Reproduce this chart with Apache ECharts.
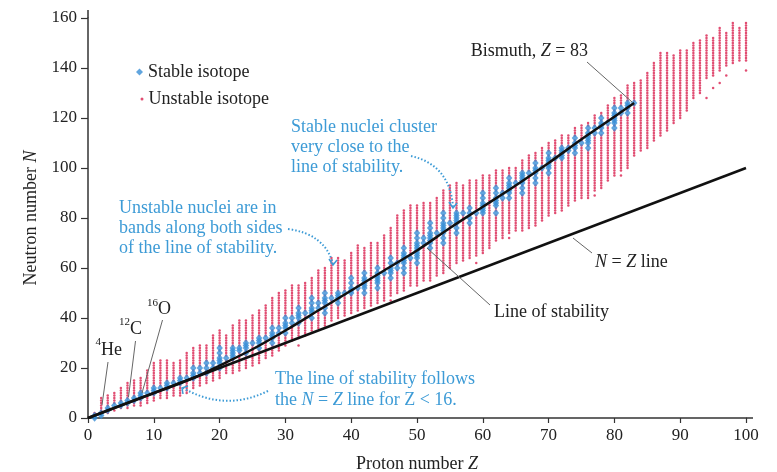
<!DOCTYPE html>
<html><head><meta charset="utf-8">
<script src="https://cdn.jsdelivr.net/npm/echarts@6/dist/echarts.min.js"></script>
<style>html,body{margin:0;padding:0;background:#fff}#c{width:777px;height:472px}</style>
</head><body><div id="c"></div>
<script>
// ---------- DATA ----------
const protonZ = [1,2,3,4,5,6,7,8,9,10,11,12,13,14,15,16,17,18,19,20,21,22,23,24,25,26,27,28,29,30,
  31,32,33,34,35,36,37,38,39,40,41,42,43,44,45,46,47,48,49,50,51,52,53,54,55,56,57,58,59,60,
  61,62,63,64,65,66,67,68,69,70,71,72,73,74,75,76,77,78,79,80,81,82,83,84,85,86,87,88,89,90,
  91,92,93,94,95,96,97,98,99,100];
// lowest / highest neutron number of the unstable band for each Z
const unstableMinN = [0,1,2,3,4,4,5,5,6,7,8,8,9,9,10,12,13,14,15,16,18,18,19,20,21,22,24,25,27,29,
  31,32,33,35,36,37,39,40,41,42,43,44,45,46,47,49,50,51,53,53,55,55,57,58,60,62,63,64,65,66,
  69,71,72,74,75,75,76,77,79,81,82,83,85,87,88,88,91,92,95,97,99,100,105,107,108,111,113,115,118,120,
  123,128,130,136,137,139,141,142,143,143];
const unstableMaxN = [2,8,9,10,12,14,15,16,19,22,23,23,22,23,26,28,29,29,33,35,33,37,39,39,41,43,45,48,50,51,
  53,53,54,56,59,60,64,64,63,66,69,68,70,70,73,76,81,83,85,85,86,86,88,91,93,94,93,95,95,97,
  97,99,99,100,100,103,105,106,108,110,111,113,113,116,117,118,121,122,125,128,129,133,134,135,138,142,146,146,145,147,
  147,150,151,153,152,156,154,158,156,158];
// isolated unstable isotopes below the bands
const unstableExtraZ = [32,46,59,61,64,77,81,94,95,96,97,100];
const unstableExtraN = [29,47,62,68,72,89,97,128,132,134,137,139];
// stable isotopes: neutron numbers for each Z = 1..83
const stableN = [
  [0,1],[1,2],[3,4],[5],[5,6],[6,7],[7,8],[8,9,10],[10],[10,11,12],
  [12],[12,13,14],[14],[14,15,16],[16],[16,17,18,20],[18,20],[18,20,22],[20,22],[20,22,23,24,26,28],
  [24],[24,25,26,27,28],[27,28],[26,28,29,30],[30],[28,30,31,32],[32],[30,32,33,34,36],[34,36],[34,36,37,38,40],
  [38,40],[38,40,41,42,44],[42],[40,42,43,44,46,48],[44,46],[42,44,46,47,48,50],[48],[46,48,49,50],[50],[50,51,52,54,56],
  [52],[50,52,53,54,55,56,58],[],[52,54,55,56,57,58,60],[58],[56,58,59,60,62,64],[60,62],[58,60,62,63,64,65,66,68],[64],[62,64,65,66,67,68,69,70,72,74],
  [70,72],[68,70,71,72,73,74,76,78],[74],[70,72,74,75,76,77,78,80,82],[78],[74,76,78,79,80,81,82],[82],[78,80,82,84],[82],[82,83,84,85,86,88,90],
  [],[82,85,86,87,88,90,92],[88,90],[88,90,91,92,93,94,96],[94],[90,92,94,95,96,97,98],[98],[94,96,98,99,100,102],[100],[98,100,101,102,103,104,106],
  [104],[104,105,106,107,108],[107,108],[106,108,109,110,112],[110],[108,110,111,112,113,114,116],[114,116],[114,116,117,118,120],[118],[116,118,119,120,121,122,124],
  [122,124],[122,124,125,126],[126]
];
// line of stability
const stabilityZ = [0,8,16,20,25,30,35,40,45,50,55,60,65,70,75,80,83];
const stabilityN = [0,8,16,21,27.5,35,43,51,59,67,76,84.5,93,102,111.5,120.5,126];
// N = Z line
const nzLineZ = [0,100];
const nzLineN = [0,100];
// axis ticks
const xTicks = [0,10,20,30,40,50,60,70,80,90,100];
const yTicks = [0,20,40,60,80,100,120,140,160];

// ---------- BUILD ----------
const stablePts = [];
const stableSet = new Set();
stableN.forEach((ns, i) => ns.forEach(n => { stablePts.push([protonZ[i], n]); stableSet.add(protonZ[i] + ':' + n); }));
const unstablePts = [];
protonZ.forEach((z, i) => {
  for (let n = unstableMinN[i]; n <= unstableMaxN[i]; n++) {
    if (!stableSet.has(z + ':' + n)) unstablePts.push([z, n]);
  }
});
unstableExtraZ.forEach((z, i) => unstablePts.push([z, unstableExtraN[i]]));
const stabilityPts = stabilityZ.map((z, i) => [z, stabilityN[i]]);
const nzPts = nzLineZ.map((z, i) => [z, nzLineN[i]]);

const SERIF = '"Liberation Serif","Times New Roman",serif';
const BLUE = '#3a8ed6';
const RED = '#d9204f';
const ANN = '#3d9bd6';
const GRAY = '#666';

function txt(text, x, y, opts) {
  opts = opts || {};
  return {
    type: 'text', z: 50,
    style: Object.assign({
      text: text, x: x, y: y,
      fill: opts.fill || '#222',
      fontSize: opts.size || 18, fontFamily: SERIF,
      align: opts.align || 'left', textAlign: opts.align || 'left',
      verticalAlign: 'middle', textVerticalAlign: 'middle',
      rich: { i: { fontStyle: 'italic', fontSize: opts.size || 18, fontFamily: SERIF, fill: opts.fill || '#222' },
              n: { fontSize: opts.size || 18, fontFamily: SERIF, fill: opts.fill || '#222' } }
    }, opts.extra || {})
  };
}
function seg(x1, y1, x2, y2) {
  return { type: 'line', z: 40, shape: { x1, y1, x2, y2 }, style: { stroke: GRAY, lineWidth: 1 } };
}
function dotted(x1, y1, cx, cy, x2, y2) {
  return { type: 'bezierCurve', z: 40, shape: { x1, y1, x2, y2, cpx1: cx, cpy1: cy },
    style: { stroke: ANN, lineWidth: 2, lineDash: [1.5, 2], fill: null } };
}
function head(pts) {
  return { type: 'polyline', z: 40, shape: { points: pts }, style: { stroke: ANN, lineWidth: 1.5, fill: null } };
}

const chart = echarts.init(document.getElementById('c'), null, { renderer: 'canvas' });
const option = {
  animation: false,
  backgroundColor: '#fff',
  grid: { left: 88, right: 31, top: 18, bottom: 54, containLabel: false, outerBoundsMode: 'none' },
  legend: [
    { data: [{ name: 'Stable isotope', icon: 'diamond' }], orient: 'vertical', left: 131, top: 58,
      itemWidth: 7, itemHeight: 7, textStyle: { fontSize: 18, fontFamily: SERIF, color: '#222' } },
    { data: [{ name: 'Unstable isotope', icon: 'circle' }], orient: 'vertical', left: 135.5, top: 85,
      itemWidth: 3, itemHeight: 3, textStyle: { fontSize: 18, fontFamily: SERIF, color: '#222' } }
  ],
  xAxis: {
    type: 'value', min: xTicks[0], max: xTicks[xTicks.length - 1], interval: 10,
    name: 'Proton number {i|Z}', nameLocation: 'middle', nameGap: 37,
    nameTextStyle: { fontSize: 18, fontFamily: SERIF, color: '#222',
      rich: { i: { fontStyle: 'italic', fontSize: 18, fontFamily: SERIF, color: '#222' } } },
    axisLine: { lineStyle: { color: '#333', width: 1.5 } },
    axisTick: { length: 5, lineStyle: { color: '#333', width: 1.2 } },
    axisLabel: { fontSize: 17, fontFamily: SERIF, color: '#222', margin: 9 },
    splitLine: { show: false }
  },
  yAxis: {
    type: 'value', min: yTicks[0], max: yTicks[yTicks.length - 1], interval: 20,
    name: 'Neutron number {i|N}', nameLocation: 'middle', nameGap: 41, nameRotate: 90,
    nameTextStyle: { fontSize: 18, fontFamily: SERIF, color: '#222',
      rich: { i: { fontStyle: 'italic', fontSize: 18, fontFamily: SERIF, color: '#222' } } },
    axisLine: { show: true, lineStyle: { color: '#333', width: 1.5 } },
    axisTick: { show: true, length: 7, lineStyle: { color: '#333', width: 1.2 } },
    axisLabel: { fontSize: 17, fontFamily: SERIF, color: '#222', margin: 11 },
    splitLine: { show: false }
  },
  series: [
    { name: 'Unstable isotope', type: 'scatter', data: unstablePts, symbol: 'circle', symbolSize: 2.5,
      itemStyle: { color: RED }, z: 2, silent: true },
    { name: 'Stable isotope', type: 'scatter', data: stablePts, symbol: 'diamond', symbolSize: [6.5, 7.5],
      itemStyle: { color: BLUE }, z: 3, silent: true },
    { name: 'N = Z', type: 'line', data: nzPts, showSymbol: false, symbol: 'none',
      lineStyle: { color: '#111', width: 2.5 }, z: 4, silent: true },
    { name: 'Line of stability', type: 'line', data: stabilityPts, smooth: 0.3, showSymbol: false, symbol: 'none',
      lineStyle: { color: '#111', width: 2.5 }, z: 5, silent: true }
  ],
  graphic: [
    // axis extensions
    { type: 'line', shape: { x1: 746, y1: 418, x2: 753, y2: 418 }, style: { stroke: '#333', lineWidth: 1.5 } },
    { type: 'line', shape: { x1: 88, y1: 18, x2: 88, y2: 10 }, style: { stroke: '#333', lineWidth: 1.5 } },
    // black labels
    txt('Bismuth, {i|Z} = 83', 588, 51, { align: 'right' }),
    seg(587, 62, 632, 102),
    txt('{i|N} = {i|Z} line', 595, 262),
    seg(573, 238, 592, 253),
    txt('Line of stability', 494, 312),
    seg(427, 248, 490, 305),
    txt('4', 101, 342, { size: 11, align: 'right' }),
    txt('He', 101, 350),
    seg(108, 362, 102, 405),
    txt('12', 130, 322, { size: 11, align: 'right' }),
    txt('C', 130, 329),
    seg(135.5, 341, 128.5, 397),
    txt('16', 158, 303, { size: 11, align: 'right' }),
    txt('O', 158, 309),
    seg(162.5, 320, 142, 393),
    // blue annotations
    txt('Stable nuclei cluster', 291, 127, { fill: ANN }),
    txt('very close to the', 291, 147, { fill: ANN }),
    txt('line of stability.', 291, 167, { fill: ANN }),
    dotted(411, 156, 450, 165, 453, 207),
    head([[449, 202], [453, 208], [457, 203]]),
    txt('Unstable nuclei are in', 119, 208, { fill: ANN }),
    txt('bands along both sides', 119, 228, { fill: ANN }),
    txt('of the line of stability.', 119, 248, { fill: ANN }),
    dotted(288, 229, 325, 234, 333, 264),
    head([[329, 259], [333, 265], [337, 260]]),
    txt('The line of stability follows', 275, 379, { fill: ANN }),
    txt('the {i|N} = {i|Z} line for {n|Z} < 16.', 275, 400, { fill: ANN }),
    dotted(268, 391, 225, 412, 183, 388),
    head([[183, 394], [182, 388], [188, 386]])
  ]
};
chart.setOption(option);
</script>
</body></html>
